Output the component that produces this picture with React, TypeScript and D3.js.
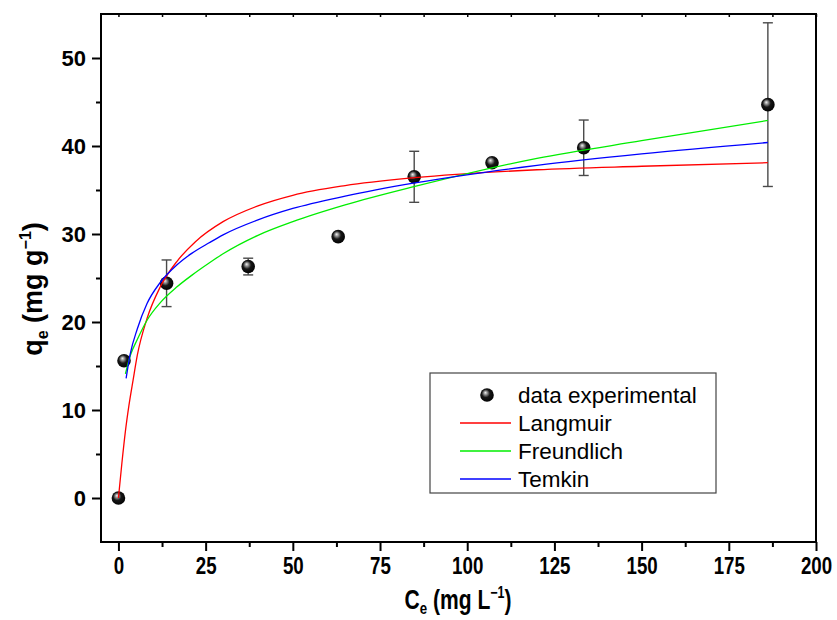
import React from "react";
import * as d3 from "d3";

// experimental points (Ce, qe, error)
const ceData = [0, 1.6, 13.8, 37.2, 63, 84.8, 107.1, 133.4, 186.2];
const qeData = [0, 15.6, 24.4, 26.3, 29.7, 36.5, 38.1, 39.8, 44.7];
const qeErr = [0, 0, 2.65, 0.95, 0, 2.9, 0, 3.15, 9.3];

// fitted curves
const langmuirCe = [0, 1, 2, 3, 4.2, 5.4, 8.2, 12, 16.8, 22, 30, 40, 50, 65, 85, 120, 150, 186.2];
const langmuirQe = [0, 4.0, 7.6, 10.5, 13.4, 16.2, 20.4, 24.0, 26.9, 29.1, 31.4, 33.2, 34.4, 35.5, 36.4, 37.3, 37.7, 38.1];

const freundlichCe = [2, 3.4, 5.4, 8.2, 12, 16.8, 21, 26, 30, 40, 50, 65, 85, 120, 150, 186.2];
const freundlichQe = [14.1, 16.2, 18.0, 20.2, 22.2, 24.0, 25.3, 26.7, 27.75, 29.85, 31.4, 33.3, 35.4, 38.6, 40.6, 42.9];

const temkinCe = [2.2, 3.4, 5.4, 8.2, 12, 16.8, 21, 26, 30, 40, 50, 65, 85, 120, 150, 186.2];
const temkinQe = [13.6, 16.4, 19.2, 22.1, 24.5, 26.5, 27.8, 29.0, 29.9, 31.6, 32.9, 34.3, 35.8, 37.8, 39.1, 40.4];

const xTicks = [0, 25, 50, 75, 100, 125, 150, 175, 200];
const yTicks = [0, 10, 20, 30, 40, 50];

const legendNames = ["data experimental", "Langmuir", "Freundlich", "Temkin"];

const COLORS = {
  LANGMUIR: "#ff0000",
  FREUNDLICH: "#00ee00",
  TEMKIN: "#0000ff",
  ERROR: "#4a4a4a",
};

const W = 837;
const H = 620;
const margin = { top: 14, right: 21, bottom: 78, left: 101 };

export default function App() {
  const ref = React.useRef<SVGSVGElement | null>(null);

  React.useEffect(() => {
    const svg = d3.select(ref.current);
    svg.selectAll("*").remove();

    const x = d3.scaleLinear().domain([-5, 200]).range([margin.left, W - margin.right]);
    const y = d3.scaleLinear().domain([-5, 55]).range([H - margin.bottom, margin.top]);

    const defs = svg.append("defs");
    const grad = defs
      .append("radialGradient")
      .attr("id", "ball")
      .attr("cx", "45%")
      .attr("cy", "45%")
      .attr("r", "60%")
      .attr("fx", "38%")
      .attr("fy", "32%");
    grad.append("stop").attr("offset", "0%").attr("stop-color", "#f2f2f2");
    grad.append("stop").attr("offset", "20%").attr("stop-color", "#9a9a9a");
    grad.append("stop").attr("offset", "50%").attr("stop-color", "#161616");
    grad.append("stop").attr("offset", "100%").attr("stop-color", "#000");

    const font = "'Liberation Sans', Arial, sans-serif";
    const narrow = 0.78; // x labels are in a condensed face

    // bottom axis
    const xAxis = svg
      .append("g")
      .attr("transform", `translate(0,${H - margin.bottom})`)
      .call(d3.axisBottom(x).tickValues(xTicks).tickSize(9).tickPadding(6).tickFormat(d3.format("d")))
      .call((g) => g.select(".domain").remove());
    xAxis
      .selectAll("text")
      .attr("font-family", font)
      .attr("font-weight", "bold")
      .attr("font-size", 24)
      .attr("transform", `scale(${narrow},1)`)
      .attr("fill", "#000");
    xAxis.selectAll("line").attr("stroke-width", 2);

    svg
      .append("g")
      .attr("transform", `translate(0,${H - margin.bottom})`)
      .call(d3.axisBottom(x).tickValues(d3.range(12.5, 200, 25)).tickSize(5).tickFormat(() => ""))
      .call((g) => g.select(".domain").remove())
      .selectAll("line")
      .attr("stroke-width", 2);

    // top axis (small inner ticks)
    svg
      .append("g")
      .attr("transform", `translate(0,${margin.top})`)
      .call(d3.axisBottom(x).tickValues(d3.range(0, 201, 12.5)).tickSize(3).tickFormat(() => ""))
      .call((g) => g.select(".domain").remove())
      .selectAll("line")
      .attr("stroke-width", 1.5);

    // left axis
    const yAxis = svg
      .append("g")
      .attr("transform", `translate(${margin.left},0)`)
      .call(d3.axisLeft(y).tickValues(yTicks).tickSize(9).tickPadding(6))
      .call((g) => g.select(".domain").remove());
    yAxis
      .selectAll("text")
      .attr("font-family", font)
      .attr("font-weight", "bold")
      .attr("font-size", 22)
      .attr("fill", "#000");
    yAxis.selectAll("line").attr("stroke-width", 2);

    svg
      .append("g")
      .attr("transform", `translate(${margin.left},0)`)
      .call(d3.axisLeft(y).tickValues(d3.range(5, 55, 10)).tickSize(5).tickFormat(() => ""))
      .call((g) => g.select(".domain").remove())
      .selectAll("line")
      .attr("stroke-width", 2);

    // frame
    svg
      .append("rect")
      .attr("x", margin.left)
      .attr("y", margin.top)
      .attr("width", W - margin.left - margin.right)
      .attr("height", H - margin.top - margin.bottom)
      .attr("fill", "none")
      .attr("stroke", "#000")
      .attr("stroke-width", 2);

    // axis titles
    const xt = svg
      .append("text")
      .attr("transform", `translate(458,609) scale(${narrow},1)`)
      .attr("text-anchor", "middle")
      .attr("font-family", font)
      .attr("font-weight", "bold")
      .attr("font-size", 27);
    xt.append("tspan").text("C");
    xt.append("tspan").attr("font-size", 17).attr("dy", 5).text("e");
    xt.append("tspan").attr("dy", -5).text(" (mg L");
    xt.append("tspan").attr("font-size", 16).attr("dy", -11).text("\u22121");
    xt.append("tspan").attr("dy", 11).text(")");

    const yt = svg
      .append("text")
      .attr("transform", `translate(42,289) rotate(-90)`)
      .attr("text-anchor", "middle")
      .attr("font-family", font)
      .attr("font-weight", "bold")
      .attr("font-size", 27);
    yt.append("tspan").text("q");
    yt.append("tspan").attr("font-size", 16).attr("dy", 6).text("e");
    yt.append("tspan").attr("dy", -6).text(" (mg g");
    yt.append("tspan").attr("font-size", 16).attr("dy", -11).text("\u22121");
    yt.append("tspan").attr("dy", 11).text(")");

    // error bars
    const pts = ceData.map((c, i) => ({ c, q: qeData[i], e: qeErr[i] }));
    const eb = svg.append("g").attr("stroke", COLORS.ERROR).attr("stroke-width", 1.4);
    pts
      .filter((p) => p.e > 0)
      .forEach((p) => {
        eb.append("line")
          .attr("x1", x(p.c))
          .attr("x2", x(p.c))
          .attr("y1", y(p.q - p.e))
          .attr("y2", y(p.q + p.e));
        [p.q - p.e, p.q + p.e].forEach((v) => {
          eb.append("line")
            .attr("x1", x(p.c) - 5)
            .attr("x2", x(p.c) + 5)
            .attr("y1", y(v))
            .attr("y2", y(v));
        });
      });

    // points
    svg
      .append("g")
      .selectAll("circle")
      .data(pts)
      .join("circle")
      .attr("cx", (d) => x(d.c))
      .attr("cy", (d) => y(d.q))
      .attr("r", 6.8)
      .attr("fill", "url(#ball)");

    // curves
    const line = d3
      .line<[number, number]>()
      .x((d) => x(d[0]))
      .y((d) => y(d[1]))
      .curve(d3.curveMonotoneX);

    const curves: [number[], number[], string][] = [
      [langmuirCe, langmuirQe, COLORS.LANGMUIR],
      [freundlichCe, freundlichQe, COLORS.FREUNDLICH],
      [temkinCe, temkinQe, COLORS.TEMKIN],
    ];
    curves.forEach(([cs, qs, color]) => {
      svg
        .append("path")
        .datum(cs.map((c, i) => [c, qs[i]] as [number, number]))
        .attr("fill", "none")
        .attr("stroke", color)
        .attr("stroke-width", 1.3)
        .attr("d", line);
    });

    // legend
    const lg = svg.append("g");
    lg.append("rect")
      .attr("x", 430)
      .attr("y", 373)
      .attr("width", 286)
      .attr("height", 120)
      .attr("fill", "#fff")
      .attr("stroke", "#444")
      .attr("stroke-width", 1.2);
    const rowY = [395, 423, 451, 479];
    const legendColors = [null, COLORS.LANGMUIR, COLORS.FREUNDLICH, COLORS.TEMKIN];
    legendNames.forEach((name, i) => {
      const c = legendColors[i];
      if (c) {
        lg.append("line")
          .attr("x1", 460)
          .attr("x2", 511)
          .attr("y1", rowY[i])
          .attr("y2", rowY[i])
          .attr("stroke", c)
          .attr("stroke-width", 1.3);
      } else {
        lg.append("circle").attr("cx", 487).attr("cy", rowY[i]).attr("r", 6.8).attr("fill", "url(#ball)");
      }
      lg.append("text")
        .attr("x", 518)
        .attr("y", rowY[i])
        .attr("dy", "0.35em")
        .attr("font-family", font)
        .attr("font-size", 22.5)
        .attr("fill", "#000")
        .text(name);
    });
  }, []);

  return (
    <div style={{ position: "absolute", left: 0, top: 0 }}>
      <svg ref={ref} width={W} height={H} style={{ display: "block", background: "#fff" }} />
    </div>
  );
}
